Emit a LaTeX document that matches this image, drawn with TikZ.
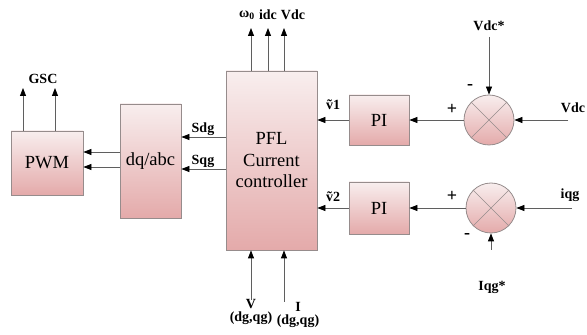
\documentclass[tikz,border=0pt]{standalone}
\usepackage{fontspec}
\setmainfont{Liberation Serif}
\usetikzlibrary{arrows.meta, positioning, calc}

\definecolor{blocktop}{RGB}{248,238,238}
\definecolor{blockbot}{RGB}{228,170,170}
\definecolor{blockedge}{RGB}{150,140,140}
\definecolor{wire}{RGB}{95,95,95}

\begin{document}
\begin{tikzpicture}[x=1pt, y=1pt,
        every node/.style={align=center},
        block/.style={rectangle, draw=blockedge, top color=blocktop,
                      bottom color=blockbot, thick, inner sep=0pt,
                      font=\fontsize{18.5}{21.5}\selectfont},
        summer/.style={circle, draw=blockedge, top color=blocktop,
                       bottom color=blockbot, thick, minimum size=50pt,
                       inner sep=0pt},
        arrow/.style={-{Triangle[length=8pt, width=6pt, color=black]},
                      line width=0.8pt, wire},
        sig/.style={font=\fontsize{14}{12.5}\selectfont\bfseries, inner sep=0.5pt},
        sign/.style={font=\fontsize{18}{18}\selectfont\bfseries, inner sep=0pt}
    ]
        \useasboundingbox (0,0) rectangle (587,335);

        % Blocks
        \node[block, minimum width=72pt, minimum height=64pt] (pwm) at (47,172) {PWM};
        \node[block, minimum width=61pt, minimum height=114pt] (dqabc) at (150.5,174) {dq/abc};
        \node[block, minimum width=91pt, minimum height=179pt] (pfl) at (271.5,174.5)
            {PFL\\Current\\controller};
        \node[block, minimum width=60pt, minimum height=50pt] (pi1) at (379,215) {PI};
        \node[block, minimum width=60pt, minimum height=52pt] (pi2) at (379,127) {PI};

        % Summing junctions
        \node[summer] (sum1) at (489,215) {};
        \node[summer] (sum2) at (491,127) {};
        \draw[blockedge] (sum1.45) -- (sum1.225) (sum1.135) -- (sum1.315);
        \draw[blockedge] (sum2.45) -- (sum2.225) (sum2.135) -- (sum2.315);

        % Free ends of the signals
        \coordinate (gscA) at (23,247);
        \coordinate (gscB) at (55,247);
        \coordinate (wout) at (251,307);
        \coordinate (idcout) at (268,307);
        \coordinate (vdcout) at (284,307);
        \coordinate (vin) at (251,35);
        \coordinate (iin) at (284,33);
        \coordinate (vdcin) at (568,215);
        \coordinate (vdcref) at (489,298);
        \coordinate (iqgin) at (572,127);
        \coordinate (iqgref) at (491,85);

        % Labels
        \node[sig] (gsc) at (43,256) {GSC};
        \node[sig] (wlbl) at (247,320) {ω\textsubscript{0}};
        \node[sig] (idclbl) at (268,320) {idc};
        \node[sig] (vdclbl) at (293,320) {Vdc};
        \node[sig] (sdg) at (203,206) {Sdg};
        \node[sig] (sqg) at (203,174) {Sqg};
        \node[sig] (v1lbl) at (333,230) {\~{v}1};
        \node[sig] (v2lbl) at (333,138) {\~{v}2};
        \node[sig] (vdcreflbl) at (489,309) {Vdc*};
        \node[sig] (vdcinlbl) at (573,227) {Vdc};
        \node[sig] (iqglbl) at (570,140) {iqg};
        \node[sig] (iqgreflbl) at (492,48) {Iqg*};
        \node[sig] (vlbl) at (251,23) {V\\(dg,qg)};
        \node[sig] (ilbl) at (298,20) {I\\(dg,qg)};

        % Signs at the junctions
        \node[sign] (m1) at (470,248) {-};
        \node[sign] (p1) at (452,226) {+};
        \node[sign] (p2) at (452,139) {+};
        \node[sign] (m2) at (467,99) {-};

        % --- Arrows ---
        \draw[arrow] (pwm.north -| gscA) -- (gscA);
        \draw[arrow] (pwm.north -| gscB) -- (gscB);
        \draw[arrow] ([yshift=9pt]dqabc.west) -- ([yshift=9pt]dqabc.west -| pwm.east);
        \draw[arrow] ([yshift=-6pt]dqabc.west) -- ([yshift=-6pt]dqabc.west -| pwm.east);
        \draw[arrow] ([yshift=23.5pt]pfl.west) -- ([yshift=23.5pt]pfl.west -| dqabc.east);
        \draw[arrow] ([yshift=-8.5pt]pfl.west) -- ([yshift=-8.5pt]pfl.west -| dqabc.east);
        % controller outputs and measured inputs
        \draw[arrow] (pfl.north -| wout) -- (wout);
        \draw[arrow] (pfl.north -| idcout) -- (idcout);
        \draw[arrow] (pfl.north -| vdcout) -- (vdcout);
        \draw[arrow] (vin) -- (vin |- pfl.south);
        \draw[arrow] (iin) -- (iin |- pfl.south);
        % outer loops
        \draw[arrow] (pi1.west) -- (pi1.west -| pfl.east);
        \draw[arrow] (pi2.west) -- (pi2.west -| pfl.east);
        \draw[arrow] (sum1.west) -- (pi1.east);
        \draw[arrow] (sum2.west) -- (pi2.east);
        \draw[arrow] (vdcin) -- (sum1.east);
        \draw[arrow] (vdcref) -- (sum1.north);
        \draw[arrow] (iqgin) -- (sum2.east);
        \draw[arrow] (iqgref) -- (sum2.south);
    \end{tikzpicture}
\end{document}
